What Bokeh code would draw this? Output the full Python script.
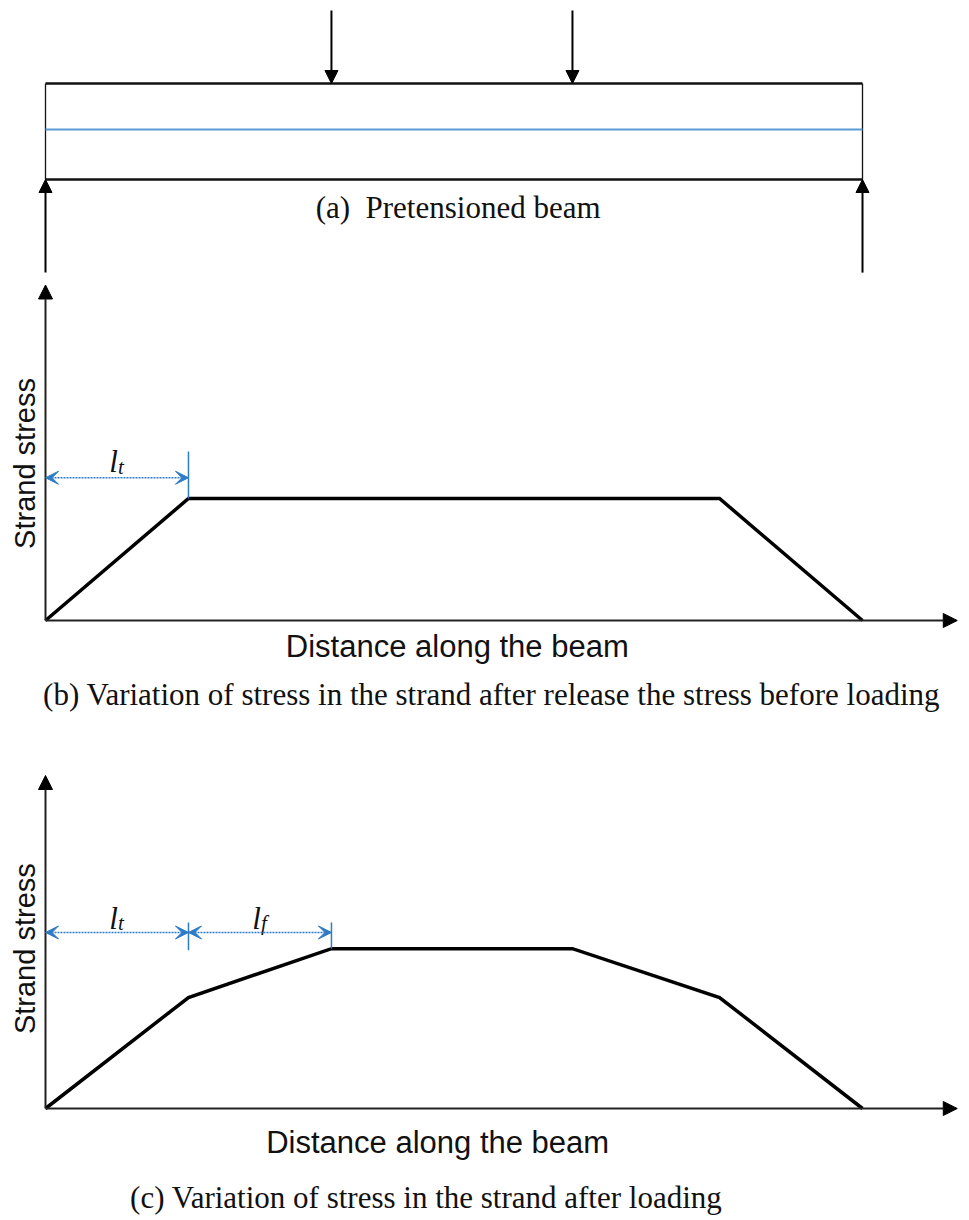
from bokeh.plotting import figure
from bokeh.models import Range1d, Arrow, NormalHead, VeeHead, ColumnDataSource
from bokeh.core.properties import value
from bokeh.embed import file_html
from bokeh.resources import INLINE
import math

# ---- beam and loading (distance along the beam, 0..100) ----
beam_length = 100.0
load_positions = [35.0, 64.5]
support_positions = [0.0, 100.0]
beam_depth = 1.0
strand_level = 0.52

# ---- strand stress profiles ----
transfer_length = 17.5
stress_b_x = [0.0, 17.5, 82.5, 100.0]
stress_b_y = [0.0, 1.0, 1.0, 0.0]

stress_c_x = [0.0, 17.5, 35.0, 64.5, 82.5, 100.0]
stress_c_y = [0.0, 1.0, 1.44, 1.44, 1.0, 0.0]

# dimension marks: (start, end) of l_t and l_f
dim_b = [(0.0, 17.5)]
dim_c = [(0.0, 17.5), (17.5, 35.0)]

W, H = 969, 1220
X0_PX, X_PPU = 45.0, 8.17


def vrange(base_px, ppu):
    return Range1d(start=-(H - base_px) / ppu, end=base_px / ppu)


p = figure(width=W, height=H, output_backend="svg", toolbar_location=None,
           x_axis_type=None, y_axis_type=None, min_border=0,
           x_range=Range1d(-X0_PX / X_PPU, (W - X0_PX) / X_PPU),
           y_range=vrange(179, 96))
p.outline_line_color = None
p.background_fill_color = "white"
p.border_fill_color = "white"
p.extra_y_ranges = {"b": vrange(620, 122), "c": vrange(1108, 111)}

BLACK = "#000000"
BLUE = "#2E7BC6"
STRAND = "#5B9BD5"
SERIF = value("Liberation Serif")
SANS = value("Liberation Sans")
CAPTION_SIZE = "31px"

# ---------------- (a) beam ----------------
p.segment(x0=[0, 0], y0=[0, beam_depth], x1=[beam_length, beam_length],
          y1=[0, beam_depth], line_color="#111111", line_width=2.5)
p.segment(x0=[0, beam_length], y0=[0, 0], x1=[0, beam_length],
          y1=[beam_depth, beam_depth], line_color="#111111", line_width=1.3)
p.segment(x0=[0], y0=[strand_level], x1=[beam_length], y1=[strand_level],
          line_color=STRAND, line_width=2)

loads = ColumnDataSource(dict(x=load_positions,
                              ys=[1.76] * len(load_positions),
                              ye=[beam_depth] * len(load_positions)))
p.add_layout(Arrow(source=loads, x_start="x", y_start="ys", x_end="x", y_end="ye",
                   line_width=2, line_color=BLACK,
                   end=NormalHead(size=13, fill_color=BLACK, line_color=BLACK, line_width=1)))
supports = ColumnDataSource(dict(x=support_positions,
                                 ys=[-0.97] * len(support_positions),
                                 ye=[0.0] * len(support_positions)))
p.add_layout(Arrow(source=supports, x_start="x", y_start="ys", x_end="x", y_end="ye",
                   line_width=2, line_color=BLACK,
                   end=NormalHead(size=13, fill_color=BLACK, line_color=BLACK, line_width=1)))

p.text(x=[50.5], y=[-0.29], text=["(a)\u00a0 Pretensioned beam"], text_font=SERIF,
       text_font_size=CAPTION_SIZE, text_align="center", text_baseline="middle",
       text_color="#111111")


# ---------------- stress diagrams ----------------
def stress_panel(rng, xs, ys, y_top, dims, dim_y, tick_top, labels,
                 ylabel_y, xlabel_x, xlabel_y, caption, cap_x, cap_y):
    # axes with arrowheads
    p.add_layout(Arrow(x_start=0, y_start=0, x_end=0, y_end=y_top,
                       line_width=2, line_color="#222222", y_range_name=rng,
                       end=NormalHead(size=14, fill_color=BLACK, line_color=BLACK, line_width=1)))
    p.add_layout(Arrow(x_start=0, y_start=0, x_end=111.6, y_end=0,
                       line_width=2, line_color="#222222", y_range_name=rng,
                       end=NormalHead(size=14, fill_color=BLACK, line_color=BLACK, line_width=1)))
    # stress profile
    p.line(xs, ys, y_range_name=rng, line_color=BLACK, line_width=3.5,
           line_join="miter")
    # dimension lines with italic symbol labels
    for (a, b), lab in zip(dims, labels):
        p.add_layout(Arrow(x_start=a, y_start=dim_y, x_end=b, y_end=dim_y,
                           line_width=1.5, line_color=BLUE, line_dash="2 1",
                           y_range_name=rng,
                           start=VeeHead(size=13, fill_color=BLUE, line_color=BLUE, line_width=1),
                           end=VeeHead(size=13, fill_color=BLUE, line_color=BLUE, line_width=1)))
        mid = 0.5 * (a + b)
        p.text(x=[mid], y=[dim_y + 0.13], text=["l"], text_font=SERIF,
               text_font_style="italic", text_font_size="31px", text_align="right",
               text_baseline="alphabetic", text_color="#111111", y_range_name=rng,
               x_offset=1)
        p.text(x=[mid], y=[dim_y + 0.13], text=[lab], text_font=SERIF,
               text_font_style="italic", text_font_size="21px", text_align="left",
               text_baseline="alphabetic", text_color="#111111", y_range_name=rng,
               x_offset=1, y_offset=5)
    # extension ticks at the dimension ends
    ends = sorted({b for _, b in dims})
    tick_bottom = [float(ys[xs.index(e)]) for e in ends]
    if len(dims) > 1:
        tick_bottom[0] = dim_y - 0.16
    p.segment(x0=ends, y0=[tick_top] * len(ends), x1=ends, y1=tick_bottom,
              line_color=BLUE, line_width=1.5, y_range_name=rng)
    # labels
    p.text(x=[-2.45], y=[ylabel_y], text=["Strand stress"], text_font=SANS,
           text_font_size="29px", angle=math.pi / 2, text_align="center",
           text_baseline="middle", text_color="#111111", y_range_name=rng)
    p.text(x=[xlabel_x], y=[xlabel_y], text=["Distance along the beam"],
           text_font=SANS, text_font_size="31px", text_align="center",
           text_baseline="middle", text_color="#111111", y_range_name=rng)
    p.text(x=[cap_x], y=[cap_y], text=[caption], text_font=SERIF,
           text_font_size=CAPTION_SIZE, text_align="center", text_baseline="middle",
           text_color="#111111", y_range_name=rng)


stress_panel("b", stress_b_x, stress_b_y, 2.75, dim_b, 1.17, 1.385, ["t"],
             1.287, 50.4, -0.21,
             "(b) Variation of stress in the strand after release the stress before loading",
             54.6, -0.61)
stress_panel("c", stress_c_x, stress_c_y, 3.0, dim_c, 1.586, 1.676, ["t", "f"],
             1.44, 48.0, -0.31,
             "(c) Variation of stress in the strand after loading",
             46.6, -0.80)

open("out.html", "w").write(file_html(p, INLINE))
